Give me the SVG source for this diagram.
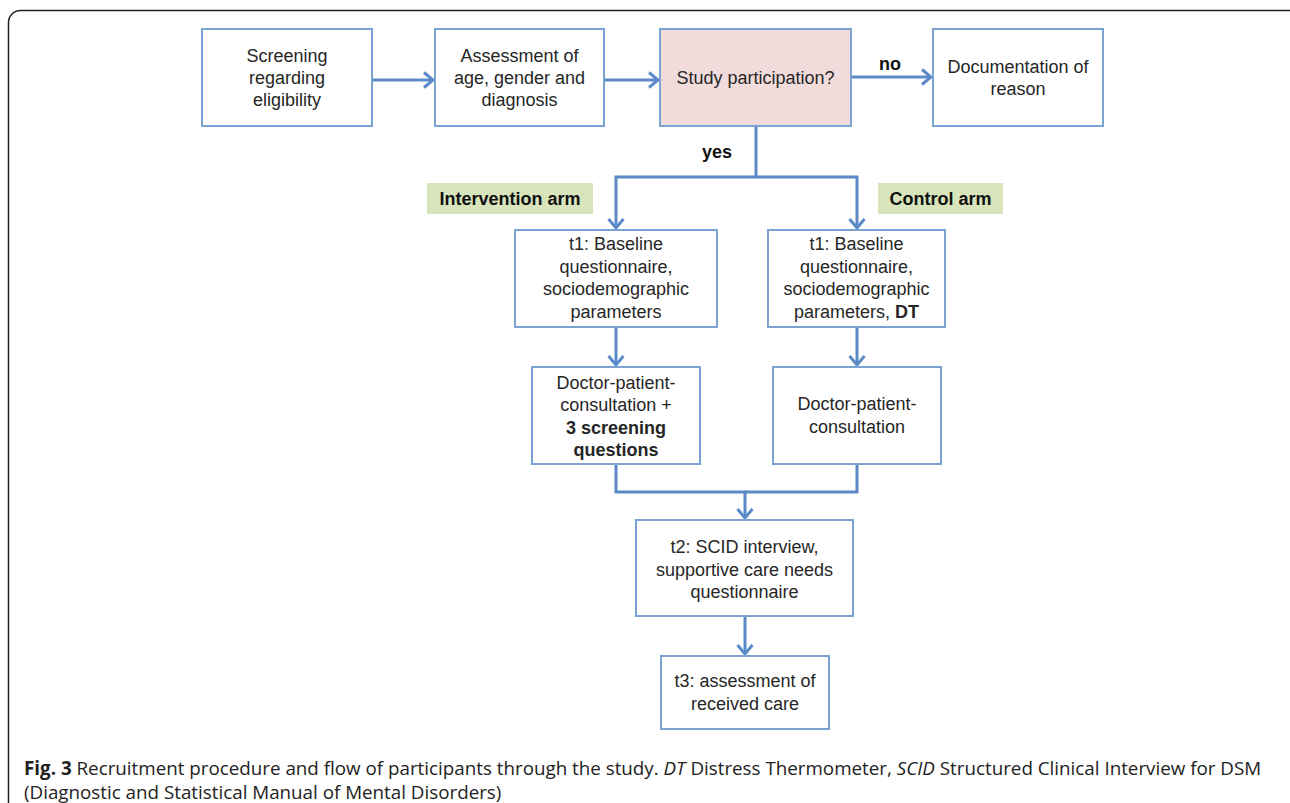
<svg xmlns="http://www.w3.org/2000/svg" width="1290" height="803" viewBox="0 0 1290 803">
<defs>
<marker id="arr" markerUnits="userSpaceOnUse" markerWidth="14" markerHeight="18" refX="11" refY="8" orient="auto" overflow="visible">
<path d="M2,0.5 L11,8 L2,15.5" fill="none" stroke="#5b8ac6" stroke-width="3" stroke-linejoin="miter"/>
</marker>
</defs>
<style>
.box{fill:#fff;stroke:#7aa3d4;stroke-width:2}
.pink{fill:#f2dcdb;stroke:#7aa3d4;stroke-width:2}
.green{fill:#d8e4bc}
.t{font-family:"Liberation Sans",Arial,sans-serif;font-size:18px;fill:#262626;text-anchor:middle}
.b{font-weight:bold}
.lbl{font-family:"Liberation Sans",Arial,sans-serif;font-size:18px;font-weight:bold;fill:#111;text-anchor:middle}
.c{fill:none;stroke:#5b8ac6;stroke-width:3;stroke-linejoin:miter}
.cap{font-family:"Open Sans",sans-serif;font-size:18.8px;fill:#222}
</style>
<rect x="8.5" y="10.5" width="1295" height="810" rx="12" fill="#fff" stroke="#222" stroke-width="1.5"/>

<g id="connectors">
<path class="c" d="M372,80 H433" marker-end="url(#arr)"/>
<path class="c" d="M604,80 H658" marker-end="url(#arr)"/>
<path class="c" d="M851,77 H931" marker-end="url(#arr)"/>
<path class="c" d="M756,126 V177 H616 V228" marker-end="url(#arr)"/>
<path class="c" d="M756,177 H857 V228" marker-end="url(#arr)"/>
<path class="c" d="M616,327 V365" marker-end="url(#arr)"/>
<path class="c" d="M857,327 V365" marker-end="url(#arr)"/>
<path class="c" d="M616,464 V492 H745 V518" marker-end="url(#arr)"/>
<path class="c" d="M857,464 V492 H745"/>
<path class="c" d="M745,616 V654" marker-end="url(#arr)"/>
<text class="lbl" x="890" y="70">no</text>
<text class="lbl" x="717" y="158">yes</text>
</g>

<g id="screening">
<rect class="box" x="202" y="29" width="170" height="97"/>
<text class="t" x="287" y="62">Screening</text>
<text class="t" x="287" y="84">regarding</text>
<text class="t" x="287" y="106">eligibility</text>
</g>

<g id="assessment">
<rect class="box" x="435" y="29" width="169" height="97"/>
<text class="t" x="519.5" y="62">Assessment of</text>
<text class="t" x="519.5" y="84">age, gender and</text>
<text class="t" x="519.5" y="106">diagnosis</text>
</g>

<g id="participation">
<rect class="pink" x="660" y="29" width="191" height="97"/>
<text class="t" x="755.5" y="84">Study participation?</text>
</g>

<g id="documentation">
<rect class="box" x="933" y="29" width="170" height="97"/>
<text class="t" x="1018" y="73">Documentation of</text>
<text class="t" x="1018" y="95">reason</text>
</g>

<g id="intervention-arm">
<rect class="green" x="427" y="183" width="166" height="31"/>
<text class="lbl" x="510" y="205">Intervention arm</text>
</g>

<g id="control-arm">
<rect class="green" x="878" y="183" width="125" height="31"/>
<text class="lbl" x="940.5" y="205">Control arm</text>
</g>

<g id="t1-intervention">
<rect class="box" x="515" y="230" width="202" height="97"/>
<text class="t" x="616" y="250">t1: Baseline</text>
<text class="t" x="616" y="272.5">questionnaire,</text>
<text class="t" x="616" y="295">sociodemographic</text>
<text class="t" x="616" y="317.5">parameters</text>
</g>

<g id="t1-control">
<rect class="box" x="768" y="230" width="177" height="97"/>
<text class="t" x="856.5" y="250">t1: Baseline</text>
<text class="t" x="856.5" y="272.5">questionnaire,</text>
<text class="t" x="856.5" y="295">sociodemographic</text>
<text class="t" x="856.5" y="317.5">parameters, <tspan class="b">DT</tspan></text>
</g>

<g id="consult-intervention">
<rect class="box" x="532" y="367" width="168" height="97"/>
<text class="t" x="616" y="388.5">Doctor-patient-</text>
<text class="t" x="616" y="411">consultation +</text>
<text class="t b" x="616" y="433.5">3 screening</text>
<text class="t b" x="616" y="456">questions</text>
</g>

<g id="consult-control">
<rect class="box" x="773" y="367" width="168" height="97"/>
<text class="t" x="857" y="410">Doctor-patient-</text>
<text class="t" x="857" y="433">consultation</text>
</g>

<g id="t2">
<rect class="box" x="636" y="520" width="217" height="96"/>
<text class="t" x="744.5" y="553">t2: SCID interview,</text>
<text class="t" x="744.5" y="575.5">supportive care needs</text>
<text class="t" x="744.5" y="598">questionnaire</text>
</g>

<g id="t3">
<rect class="box" x="661" y="656" width="168" height="73"/>
<text class="t" x="745" y="687">t3: assessment of</text>
<text class="t" x="745" y="710">received care</text>
</g>

<g id="caption">
<text class="cap" x="24" y="775"><tspan font-weight="bold">Fig. 3</tspan> Recruitment procedure and flow of participants through the study. <tspan font-style="italic">DT</tspan> Distress Thermometer, <tspan font-style="italic">SCID</tspan> Structured Clinical Interview for DSM</text>
<text class="cap" x="24" y="799">(Diagnostic and Statistical Manual of Mental Disorders)</text>
</g>
</svg>
